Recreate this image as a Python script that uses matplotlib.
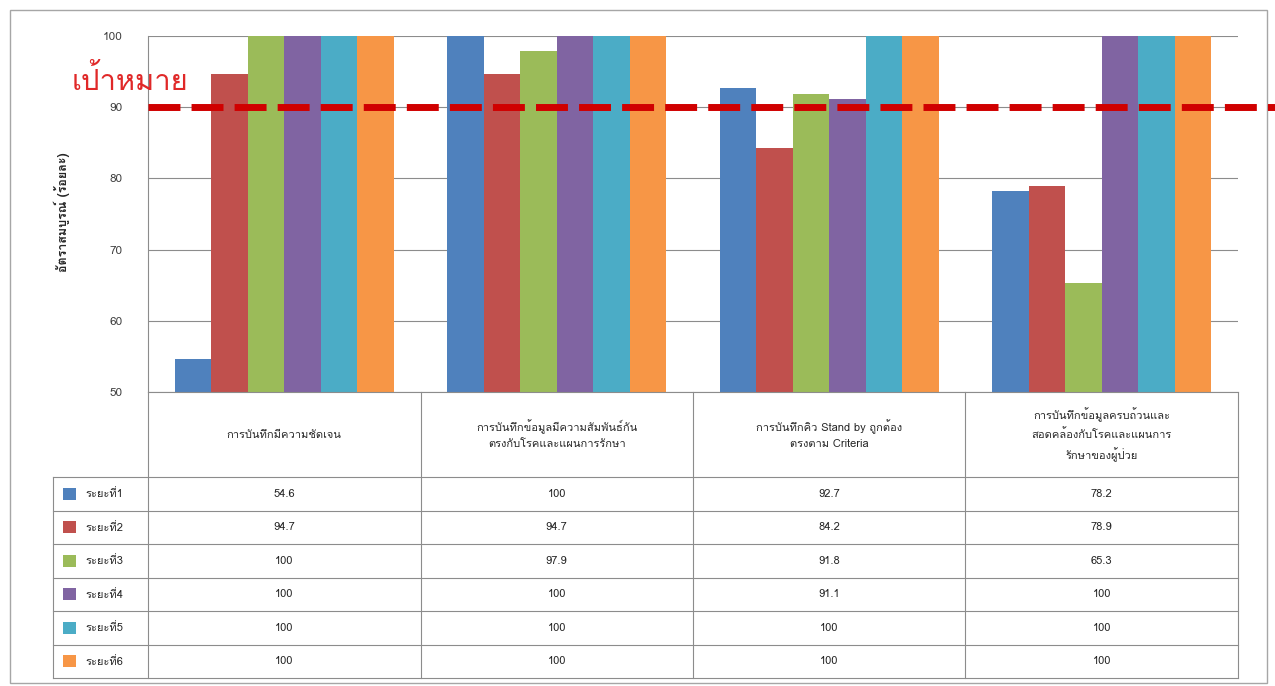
import matplotlib
matplotlib.use("Agg")
import matplotlib.pyplot as plt
from matplotlib import font_manager
from matplotlib.ft2font import FT2Font
from matplotlib.lines import Line2D
from matplotlib.patches import Rectangle
from matplotlib.transforms import blended_transform_factory

# ---- data ----
categories = [
    "การบันทึกมีความชัดเจน",
    "การบันทึกข้อมูลมีความสัมพันธ์กัน\nตรงกับโรคและแผนการรักษา",
    "การบันทึกคิว Stand by ถูกต้อง\nตรงตาม Criteria",
    "การบันทึกข้อมูลครบถ้วนและ\nสอดคล้องกับโรคและแผนการ\nรักษาของผู้ป่วย",
]
series_names = ["ระยะที่1", "ระยะที่2", "ระยะที่3", "ระยะที่4", "ระยะที่5", "ระยะที่6"]
phase1 = [54.6, 100, 92.7, 78.2]
phase2 = [94.7, 94.7, 84.2, 78.9]
phase3 = [100, 97.9, 91.8, 65.3]
phase4 = [100, 100, 91.1, 100]
phase5 = [100, 100, 100, 100]
phase6 = [100, 100, 100, 100]
series_values = [phase1, phase2, phase3, phase4, phase5, phase6]
target = 90
target_label = "เป้าหมาย"
y_ticks = [50, 60, 70, 80, 90, 100]
y_label = "อัตราสมบูรณ์ (ร้อยละ)"

colors = ["#4F81BD", "#C0504D", "#9BBB59", "#8064A2", "#4BACC6", "#F79646"]


def thai_families():
    fams = []
    for f in font_manager.fontManager.ttflist:
        try:
            if 0x0E01 in FT2Font(f.fname).get_charmap():
                if f.name not in fams:
                    fams.append(f.name)
        except Exception:
            pass
    return fams


plt.rcParams["font.family"] = thai_families() + ["DejaVu Sans"]

W, H = 1275, 686
fig = plt.figure(figsize=(W / 100, H / 100), dpi=100)


def fx(x):
    return x / W


def fy(y):
    return 1 - y / H


grid_c = "#8C8C8C"

# outer frame
fig.add_artist(Rectangle((fx(10), fy(683)), fx(1267) - fx(10), fy(10) - fy(683),
                         transform=fig.transFigure, fill=False,
                         edgecolor="#A6A6A6", lw=1.0))

# ---- plot area ----
left, right, top, bottom = 148, 1238, 36, 392
ax = fig.add_axes([fx(left), fy(bottom), fx(right) - fx(left), fy(top) - fy(bottom)])
n_cat = len(categories)
n_ser = len(series_values)
ax.set_xlim(-0.5, n_cat - 0.5)
ax.set_ylim(min(y_ticks), max(y_ticks))
bw = 0.134
for i, (vals, c) in enumerate(zip(series_values, colors)):
    xs = [k + (i - (n_ser - 1) / 2) * bw for k in range(n_cat)]
    ax.bar(xs, [v - min(y_ticks) for v in vals], bottom=min(y_ticks), width=bw,
           color=c, edgecolor="none", zorder=3)

ax.set_yticks(y_ticks)
ax.set_yticklabels([str(t) for t in y_ticks], fontsize=8.5, color="#404040")
ax.tick_params(axis="y", length=0, pad=18)
ax.set_xticks([])
ax.grid(axis="y", color=grid_c, lw=0.8, zorder=0)
for s in ["top", "right", "bottom"]:
    ax.spines[s].set_visible(False)
ax.spines["left"].set_color(grid_c)
ax.spines["left"].set_linewidth(0.8)

fig.text(fx(62), fy(212), y_label, rotation=90, ha="center", va="center",
         fontsize=9, color="#262626", fontweight="bold")

# target line across the chart
trans = blended_transform_factory(fig.transFigure, ax.transData)
tl = Line2D([fx(left), 1.0], [target, target], transform=trans, color="#D00000",
            lw=5, clip_on=False, zorder=10)
tl.set_dashes((4.6, 1.6))
fig.add_artist(tl)
fig.text(fx(72), fy(80), target_label, ha="left", va="center", fontsize=21,
         color="#E02828")

# ---- data table ----
row_top = 477
row_h = (678 - 477) / n_ser
table_bottom = row_top + row_h * n_ser
legend_left = 53
col_edges = [left + k * (right - left) / n_cat for k in range(n_cat + 1)]


def hline(y, x0, x1):
    fig.add_artist(Line2D([fx(x0), fx(x1)], [fy(y), fy(y)], transform=fig.transFigure,
                          color=grid_c, lw=0.8))


def vline(x, y0, y1):
    fig.add_artist(Line2D([fx(x), fx(x)], [fy(y0), fy(y1)], transform=fig.transFigure,
                          color=grid_c, lw=0.8))


hline(bottom, left, right)
for r in range(n_ser + 1):
    hline(row_top + r * row_h, legend_left, right)
for x in col_edges:
    vline(x, bottom, table_bottom)
vline(legend_left, row_top, table_bottom)

for k, cat in enumerate(categories):
    cx = (col_edges[k] + col_edges[k + 1]) / 2
    fig.text(fx(cx), fy((bottom + row_top) / 2), cat, ha="center", va="center",
             fontsize=8, color="#262626", linespacing=1.6)

for i, (name, vals, c) in enumerate(zip(series_names, series_values, colors)):
    cy = row_top + (i + 0.5) * row_h
    fig.add_artist(Rectangle((fx(63), fy(cy + 6)), fx(76) - fx(63), fy(cy - 6) - fy(cy + 6),
                             transform=fig.transFigure, facecolor=c, edgecolor="none"))
    fig.text(fx(85), fy(cy), name, ha="left", va="center", fontsize=8, color="#262626")
    for k, v in enumerate(vals):
        cx = (col_edges[k] + col_edges[k + 1]) / 2
        fig.text(fx(cx), fy(cy), f"{v:g}", ha="center", va="center", fontsize=8,
                 color="#262626")

fig.savefig("out.png", dpi=100)
